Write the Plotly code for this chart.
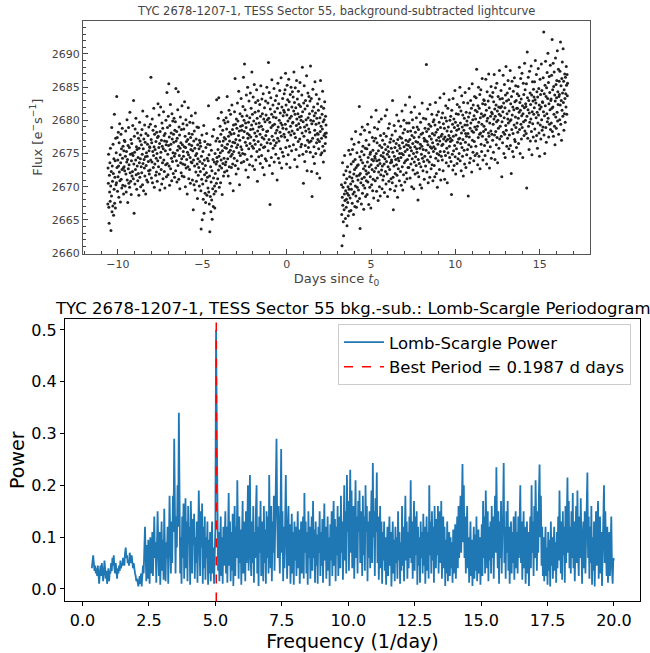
import numpy as np
import plotly.graph_objects as go

# ---------------- data: light curve (two TESS orbits) ----------------
SEG1_T_START, SEG1_T_END = -10.6, 2.35
SEG2_T_START, SEG2_T_END = 3.25, 16.65

FLUX_SEG1 = [
2667.4,2672.8,2670.5,2674.9,2666.9,2664.5,2671.7,2669.2,2673.6,2667.8,2675.8,2670.1,2663.4,2672.3,2668.6,2678.9,2666.2,2673.1,2670.8,2667.1,2676.4,2672.0,2665.7,2674.2,2669.6,2680.9,2667.5,2671.4,2673.9,2666.8,2677.3,2670.3,
2675.1,2670.6,2683.6,2672.9,2677.4,2669.3,2674.0,2671.5,2678.2,2673.1,2668.4,2676.6,2672.2,2679.5,2670.9,2674.8,2667.7,2673.6,2677.9,2671.1,2675.7,2669.8,2672.6,2678.8,2674.3,2670.2,2676.1,2672.8,2668.9,2675.4,2673.0,2677.0,
2672.4,2676.8,2670.1,2674.6,2678.4,2671.9,2669.2,2675.3,2673.7,2680.1,2671.0,2674.1,2667.6,2676.2,2672.7,2678.9,2670.5,2673.3,2675.9,2669.9,2681.2,2672.1,2674.9,2670.8,2677.1,2668.8,2673.9,2676.5,2671.6,2675.0,2672.3,2679.2,
2674.7,2671.2,2683.0,2673.4,2666.0,2677.6,2675.2,2670.4,2678.7,2672.6,2674.0,2680.3,2671.8,2676.0,2669.6,2675.6,2673.1,2678.1,2670.9,2674.4,2672.0,2677.3,2668.7,2675.8,2673.6,2679.7,2671.4,2676.9,2674.2,2670.0,2677.8,2673.0,
2676.3,2672.1,2678.6,2674.9,2670.3,2681.4,2673.5,2675.7,2669.4,2677.2,2674.1,2672.8,2679.3,2671.6,2676.7,2674.5,2668.9,2678.0,2673.2,2675.1,2671.0,2680.6,2674.6,2676.4,2670.7,2677.7,2673.8,2672.4,2679.0,2675.4,2671.9,2676.0,
2675.9,2672.5,2679.4,2674.0,2686.5,2677.1,2671.3,2676.6,2673.7,2680.2,2670.6,2675.3,2678.5,2672.9,2674.7,2681.8,2676.0,2669.9,2677.9,2673.4,2675.6,2679.1,2671.7,2676.8,2674.3,2672.2,2678.2,2675.0,2670.8,2677.4,2673.9,2682.5,
2677.6,2673.0,2675.9,2680.8,2671.9,2676.5,2669.5,2678.3,2674.4,2682.0,2675.2,2672.6,2677.0,2670.4,2679.6,2676.1,2673.6,2678.8,2671.2,2675.7,2681.3,2674.0,2677.7,2672.3,2676.9,2669.8,2678.0,2675.4,2673.3,2680.0,2676.3,2671.5,
2676.8,2684.2,2673.5,2678.9,2674.9,2671.8,2680.6,2676.2,2685.5,2673.1,2677.5,2670.2,2679.2,2675.6,2682.4,2672.7,2676.4,2678.1,2674.3,2670.9,2681.0,2677.2,2673.8,2679.9,2675.1,2672.0,2677.9,2676.7,2680.3,2674.6,2671.4,2678.5,
2675.0,2679.8,2672.4,2684.8,2676.9,2673.9,2678.3,2670.7,2677.3,2675.5,2681.6,2673.2,2684.3,2676.1,2671.1,2679.0,2674.7,2677.8,2669.7,2675.8,2680.5,2673.6,2676.6,2672.1,2678.6,2674.2,2682.2,2671.6,2676.3,2673.4,2679.5,2675.3,
2674.6,2678.7,2671.5,2676.0,2682.8,2673.3,2677.6,2670.0,2675.9,2680.1,2672.8,2676.8,2674.1,2679.3,2668.9,2675.2,2677.1,2673.0,2681.9,2674.8,2671.2,2678.0,2676.4,2672.6,2679.7,2674.4,2670.5,2677.4,2675.6,2673.7,2680.7,2676.2,
2673.6,2677.9,2671.0,2675.4,2679.6,2666.5,2674.0,2676.9,2670.3,2678.4,2673.1,2675.8,2669.5,2681.1,2674.7,2672.2,2677.2,2670.8,2675.0,2679.0,2673.4,2668.2,2676.3,2674.2,2671.7,2678.9,2672.9,2675.7,2670.1,2677.0,2673.8,2676.6,
2672.3,2676.1,2669.4,2663.6,2674.6,2671.1,2677.8,2665.0,2673.5,2670.4,2675.3,2668.1,2672.7,2679.2,2666.0,2674.0,2671.8,2676.8,2669.0,2673.2,2667.6,2675.9,2670.9,2672.1,2678.0,2668.7,2674.3,2671.4,2676.4,2669.8,2673.9,2682.2,
2669.2,2674.8,2667.4,2671.6,2663.2,2676.3,2668.5,2673.0,2666.2,2670.7,2675.5,2668.0,2672.4,2665.1,2677.6,2669.7,2674.1,2667.0,2671.3,2678.6,2668.9,2673.7,2670.1,2666.8,2675.0,2672.0,2669.3,2676.9,2673.4,2670.5,2683.1,2674.4,
2673.8,2677.3,2671.2,2675.6,2680.3,2672.5,2683.4,2674.6,2669.9,2676.8,2673.1,2679.1,2675.1,2670.6,2677.9,2674.0,2681.2,2672.8,2676.2,2668.8,2675.4,2678.5,2673.5,2676.9,2671.6,2680.0,2674.3,2677.4,2672.2,2675.9,2679.6,2673.3,
2677.2,2673.7,2680.4,2675.8,2678.7,2672.4,2683.6,2676.4,2674.2,2679.8,2671.6,2677.6,2675.2,2681.5,2673.0,2676.9,2678.2,2670.5,2675.5,2680.9,2674.6,2677.9,2672.9,2676.1,2682.3,2674.9,2678.6,2673.4,2676.7,2669.4,2679.3,2675.3,
2678.0,2674.3,2681.3,2676.6,2686.3,2673.2,2679.4,2677.1,2671.9,2680.2,2675.9,2678.8,2673.9,2682.6,2676.3,2679.9,2672.7,2677.7,2684.4,2675.1,2678.4,2670.3,2677.0,2681.0,2674.7,2679.1,2676.0,2683.3,2673.6,2678.5,2675.6,2680.6,
2679.2,2675.0,2682.1,2677.4,2686.5,2673.8,2680.0,2678.3,2688.5,2674.9,2681.6,2676.7,2679.6,2672.5,2678.9,2683.8,2676.2,2680.7,2674.1,2678.0,2685.0,2677.3,2671.4,2679.7,2675.7,2682.9,2677.8,2673.3,2680.4,2676.5,2684.1,2678.6,
2677.5,2681.8,2674.6,2679.3,2687.3,2676.1,2680.9,2673.1,2678.7,2683.5,2675.8,2679.9,2677.0,2685.4,2672.6,2678.1,2681.2,2676.4,2682.7,2674.0,2679.5,2677.6,2684.6,2675.3,2680.3,2670.8,2678.4,2683.0,2676.8,2681.4,2674.5,2679.0,
2679.6,2675.6,2682.4,2677.9,2673.5,2680.6,2685.2,2676.3,2679.1,2674.7,2683.2,2677.4,2681.0,2672.9,2678.6,2684.0,2675.9,2680.2,2677.2,2671.8,2681.9,2676.0,2679.8,2674.2,2682.9,2677.7,2680.8,2673.9,2678.3,2685.0,2676.6,2680.1,
2678.4,2682.6,2675.4,2688.7,2680.3,2677.1,2684.2,2673.2,2679.7,2667.3,2681.7,2676.5,2683.4,2678.9,2674.4,2680.9,2686.1,2677.6,2672.0,2679.2,2682.3,2675.8,2680.5,2677.0,2684.8,2673.7,2679.4,2681.3,2676.2,2683.0,2678.1,2674.9,
2680.4,2676.6,2683.7,2678.5,2671.0,2681.8,2677.3,2685.6,2679.0,2674.3,2682.5,2676.9,2680.0,2673.6,2684.5,2678.2,2681.1,2675.7,2679.6,2686.4,2677.6,2672.8,2682.0,2679.3,2675.2,2683.3,2678.8,2680.7,2674.6,2681.5,2677.9,2684.0,
2681.2,2677.5,2684.6,2679.4,2687.1,2675.9,2682.3,2678.7,2673.4,2680.8,2685.3,2677.0,2683.1,2679.9,2674.8,2681.6,2686.2,2678.2,2682.8,2676.1,2680.3,2672.9,2683.9,2679.1,2677.8,2685.0,2680.6,2675.4,2682.0,2678.4,2684.3,2679.6,
2679.7,2683.5,2676.3,2681.4,2687.3,2678.0,2682.7,2674.1,2680.9,2684.9,2677.4,2681.9,2675.6,2679.2,2686.0,2680.2,2673.0,2683.2,2678.6,2681.0,2676.8,2684.4,2679.5,2682.4,2674.7,2680.5,2677.2,2685.7,2678.9,2682.1,2676.0,2680.0,
2680.6,2676.4,2683.8,2678.1,2688.0,2681.3,2674.9,2679.8,2670.5,2682.6,2677.6,2685.2,2679.0,2673.8,2681.7,2676.2,2683.0,2678.4,2680.1,2675.3,2686.7,2679.3,2672.4,2682.2,2677.0,2684.1,2680.4,2675.9,2678.7,2683.6,2676.7,2681.0,
2678.2,2682.9,2675.2,2688.2,2680.0,2676.9,2683.3,2672.3,2679.5,2668.5,2681.4,2677.3,2684.7,2674.5,2679.9,2682.0,2676.0,2680.7,2673.5,2678.5,2685.8,2677.8,2681.1,2675.0,2679.4,2683.9,2676.6,2680.3,2672.0,2678.0,2682.5,2677.1,
2677.9,2681.5,2675.7,2679.6,2683.2,2676.8,2671.3,2680.4,2678.3,2686.0,2674.8,2679.1,2682.1,2677.3,2675.1,2680.9,2678.7,2684.4,2676.1,2679.8,2673.7,2681.8,2677.7,2680.1,2675.4,2682.8,2678.0,2676.5,2680.6,2677.5,2679.3,2678.1,
]

FLUX_SEG2 = [
2670.3,2665.8,2661.1,2668.4,2673.6,2667.2,2669.9,2664.7,2662.6,2671.8,2666.5,2668.9,2674.7,2667.9,2670.6,2665.2,2669.4,2672.4,2666.9,2668.1,2671.2,2664.1,2669.0,2673.0,2667.6,2670.0,2665.6,2668.7,2675.5,2669.6,2666.3,2671.5,
2672.2,2668.3,2674.9,2670.4,2666.4,2673.4,2669.6,2677.2,2671.3,2667.5,2675.6,2670.8,2668.9,2673.8,2665.8,2671.9,2676.4,2669.2,2672.6,2667.0,2674.1,2670.1,2678.3,2668.6,2672.9,2666.9,2671.6,2675.1,2669.9,2673.2,2667.8,2671.0,
2673.3,2669.5,2676.7,2671.7,2682.1,2668.2,2674.5,2663.7,2672.0,2677.9,2670.6,2674.0,2667.4,2675.3,2671.2,2679.0,2669.0,2673.6,2676.1,2670.2,2672.7,2666.6,2674.8,2671.4,2678.5,2669.8,2673.1,2675.8,2668.5,2672.4,2677.0,2670.9,
2671.9,2675.7,2668.8,2673.7,2679.4,2670.7,2674.4,2672.1,2667.3,2676.3,2673.0,2678.2,2669.9,2674.9,2671.5,2675.2,2666.8,2673.3,2680.5,2670.3,2674.1,2672.6,2677.4,2669.4,2675.5,2671.1,2673.9,2668.3,2676.9,2672.3,2678.9,2674.6,
2674.3,2670.9,2677.3,2672.8,2681.5,2675.0,2669.3,2673.9,2676.6,2671.3,2678.7,2673.2,2667.9,2675.4,2672.2,2679.8,2674.0,2670.0,2676.2,2673.5,2668.6,2677.7,2671.8,2674.7,2680.2,2672.5,2675.9,2669.7,2673.1,2677.0,2671.0,2674.5,
2675.1,2671.6,2678.0,2673.4,2669.1,2676.4,2674.2,2680.7,2672.3,2675.6,2670.4,2677.6,2673.8,2681.6,2671.9,2674.9,2668.5,2676.0,2673.0,2678.8,2675.3,2670.8,2674.5,2679.5,2672.6,2676.7,2669.6,2673.6,2677.2,2671.2,2675.8,2674.0,
2673.7,2677.8,2670.6,2683.0,2675.2,2671.4,2666.5,2676.9,2673.1,2679.2,2674.6,2669.4,2675.9,2672.0,2678.4,2674.1,2670.1,2676.5,2673.3,2680.8,2671.7,2675.4,2668.4,2677.1,2674.3,2672.7,2679.9,2673.9,2676.2,2670.9,2675.0,2677.5,
2675.8,2672.3,2679.1,2674.4,2670.2,2677.3,2675.0,2681.4,2673.0,2676.6,2669.5,2678.1,2674.8,2671.8,2680.0,2676.0,2673.6,2678.6,2670.7,2675.3,2682.3,2673.9,2677.0,2672.1,2676.3,2679.6,2671.2,2675.6,2674.1,2678.3,2672.9,2676.8,
2676.2,2672.9,2679.6,2674.7,2683.5,2677.1,2671.3,2675.9,2678.4,2673.4,2681.2,2675.4,2670.0,2677.7,2674.2,2680.1,2676.5,2672.5,2678.9,2675.0,2669.7,2677.4,2673.7,2682.0,2676.0,2671.9,2678.2,2674.5,2676.8,2673.2,2680.4,2675.7,
2675.2,2679.0,2672.1,2676.7,2668.0,2674.1,2678.6,2671.5,2677.5,2673.5,2681.0,2675.8,2670.3,2676.4,2679.7,2673.0,2677.9,2674.9,2669.8,2676.1,2682.6,2674.3,2678.1,2672.4,2675.6,2680.3,2673.8,2677.3,2671.1,2676.9,2674.6,2678.8,
2677.0,2673.1,2680.2,2675.5,2688.4,2678.3,2672.2,2676.8,2674.0,2681.7,2676.3,2670.6,2678.7,2675.1,2679.4,2673.7,2677.6,2671.4,2682.4,2676.0,2674.5,2679.1,2672.7,2677.2,2675.8,2680.9,2673.3,2678.0,2676.6,2670.9,2679.8,2675.3,
2676.0,2680.1,2673.2,2677.8,2671.5,2679.3,2675.7,2682.7,2674.3,2678.2,2672.0,2677.0,2680.8,2675.0,2669.9,2678.6,2676.4,2673.9,2681.3,2677.4,2674.8,2679.7,2672.6,2676.9,2683.4,2675.3,2678.9,2671.0,2677.6,2674.6,2680.4,2676.2,
2677.9,2674.0,2681.1,2676.4,2672.4,2679.5,2677.2,2684.0,2675.3,2678.8,2671.1,2677.5,2680.4,2674.7,2682.2,2676.9,2673.6,2679.9,2675.8,2678.4,2670.6,2677.1,2681.8,2675.1,2679.0,2673.1,2677.7,2683.1,2676.1,2674.4,2680.0,2677.3,
2676.8,2680.6,2673.8,2678.3,2668.8,2681.5,2677.0,2674.9,2679.4,2672.5,2683.3,2677.6,2675.4,2680.2,2673.2,2678.9,2676.2,2684.5,2674.5,2679.7,2671.9,2677.8,2681.0,2675.7,2678.5,2673.5,2682.4,2676.7,2679.2,2674.2,2680.9,2677.2,
2678.7,2675.0,2682.0,2677.3,2685.0,2673.9,2679.6,2676.5,2681.4,2672.4,2678.1,2683.7,2675.9,2679.0,2674.6,2680.8,2677.1,2671.6,2682.7,2678.5,2675.5,2680.3,2673.4,2679.3,2684.2,2676.7,2678.0,2672.9,2681.2,2677.6,2674.8,2679.9,
2679.3,2675.6,2682.6,2678.0,2668.6,2680.5,2676.3,2684.8,2677.5,2673.6,2681.1,2678.8,2674.3,2683.0,2679.6,2676.0,2681.8,2672.2,2678.4,2685.5,2677.0,2680.1,2675.2,2682.3,2678.2,2673.9,2680.7,2676.8,2683.6,2679.0,2674.7,2681.5,
2680.2,2676.1,2683.4,2678.6,2687.7,2675.0,2681.3,2679.1,2673.3,2682.2,2677.4,2685.0,2679.7,2674.6,2681.8,2677.9,2683.9,2672.7,2680.4,2678.1,2684.6,2676.4,2681.0,2675.3,2679.4,2686.3,2677.6,2682.5,2674.0,2680.6,2678.3,2683.1,
2679.1,2683.0,2676.2,2680.8,2674.7,2682.4,2678.6,2686.2,2677.1,2681.5,2673.4,2679.9,2684.3,2676.7,2680.3,2675.4,2682.9,2678.1,2687.0,2677.6,2681.9,2672.8,2679.6,2683.7,2676.0,2680.6,2678.4,2685.1,2674.3,2681.2,2677.9,2683.5,
2681.0,2677.0,2684.2,2679.4,2675.2,2682.8,2680.2,2686.9,2677.8,2681.7,2674.1,2680.6,2684.9,2678.3,2682.3,2676.3,2679.8,2685.6,2677.4,2681.4,2673.6,2680.0,2683.6,2678.8,2682.0,2675.8,2680.9,2687.5,2677.2,2683.2,2679.1,2681.9,
2680.7,2684.5,2677.6,2682.1,2671.5,2679.8,2683.3,2676.6,2681.3,2686.8,2678.2,2682.6,2675.0,2680.4,2685.4,2677.9,2681.9,2674.4,2683.8,2679.2,2688.1,2678.5,2682.9,2676.1,2681.0,2684.1,2677.3,2680.2,2686.0,2679.6,2683.1,2675.7,
2681.4,2677.8,2684.8,2679.9,2687.5,2676.2,2682.5,2680.1,2672.0,2683.6,2678.6,2685.9,2680.8,2675.3,2682.0,2678.0,2684.4,2674.5,2681.6,2679.3,2686.4,2677.1,2682.8,2676.8,2680.5,2685.2,2678.9,2683.0,2675.9,2681.8,2679.6,2684.0,
2681.8,2678.2,2685.1,2680.3,2676.5,2683.7,2681.2,2688.0,2678.6,2682.7,2675.0,2681.5,2686.3,2679.4,2683.2,2677.2,2680.7,2687.1,2678.9,2682.2,2674.4,2681.0,2685.6,2679.8,2683.9,2677.7,2681.9,2688.6,2678.4,2684.6,2680.0,2682.5,
2682.1,2678.0,2685.5,2669.8,2680.6,2690.3,2683.4,2677.3,2681.6,2686.5,2679.1,2683.0,2675.6,2681.1,2687.4,2679.7,2684.1,2676.9,2682.4,2680.2,2688.2,2678.3,2683.8,2674.8,2681.3,2685.8,2679.5,2682.9,2677.5,2684.7,2680.9,2683.5,
2681.9,2685.8,2678.7,2683.1,2689.0,2676.9,2682.6,2680.4,2686.9,2677.7,2684.3,2681.2,2675.8,2683.5,2679.6,2687.8,2680.8,2684.8,2678.1,2682.3,2674.6,2681.7,2686.2,2679.3,2683.9,2677.2,2682.0,2688.5,2680.1,2684.5,2678.5,2682.8,
2682.7,2679.0,2686.4,2681.3,2693.3,2677.8,2684.0,2680.7,2675.0,2685.3,2682.2,2688.9,2678.9,2683.6,2676.7,2684.9,2681.0,2687.2,2679.8,2683.3,2690.1,2680.3,2685.7,2677.5,2682.5,2686.6,2679.4,2684.2,2681.6,2688.3,2678.6,2683.0,
2683.2,2679.6,2686.8,2681.8,2692.2,2678.3,2684.6,2682.0,2688.6,2677.6,2685.1,2680.9,2687.3,2679.1,2683.8,2676.3,2682.9,2689.4,2680.5,2685.4,2678.8,2683.4,2686.0,2681.2,2690.5,2679.9,2684.3,2682.4,2687.7,2677.9,2683.6,2685.9,
2683.9,2680.1,2687.4,2682.3,2691.8,2679.4,2685.2,2683.0,2677.0,2686.3,2681.5,2688.8,2684.1,2680.6,2690.8,2682.7,2685.9,2678.5,2684.6,2681.0,2687.0,2683.3,2679.7,2686.5,2684.0,2682.0,2688.1,2685.3,2680.9,2686.9,2683.7,2685.6,
]

# ---------------- data: Lomb-Scargle periodogram ----------------
FREQ_START = 0.35      # 1/day
FREQ_STEP = 0.025      # 1/day
POWER = [
0.040,0.055,0.065,0.050,0.035,0.045,0.030,0.040,0.025,0.045,0.020,0.010,0.030,0.045,0.025,0.050,0.035,0.015,0.030,0.055,
0.040,0.020,0.035,0.010,0.025,0.040,0.015,0.035,0.030,0.050,0.035,0.060,0.045,0.065,0.040,0.030,0.050,0.035,0.020,0.040,
0.030,0.045,0.035,0.055,0.040,0.050,0.045,0.060,0.050,0.045,0.070,0.080,0.060,0.065,0.050,0.055,0.045,0.070,0.060,0.050,
0.065,0.055,0.040,0.050,0.035,0.030,0.025,0.015,0.020,0.010,0.005,0.015,0.025,0.010,0.030,0.005,0.020,0.045,0.030,0.060,
0.120,0.070,0.015,0.085,0.020,0.095,0.060,0.010,0.100,0.075,0.030,0.110,0.025,0.080,0.140,0.060,0.090,0.012,0.070,0.150,
0.085,0.025,0.110,0.008,0.065,0.130,0.035,0.095,0.018,0.155,0.075,0.015,0.090,0.060,0.120,0.010,0.080,0.180,0.100,0.030,
0.130,0.050,0.180,0.110,0.290,0.150,0.030,0.140,0.080,0.200,0.120,0.340,0.170,0.030,0.100,0.010,0.140,0.060,0.165,0.020,
0.110,0.175,0.040,0.130,0.015,0.160,0.090,0.120,0.008,0.170,0.105,0.030,0.135,0.085,0.145,0.020,0.100,0.050,0.130,0.012,
0.090,0.190,0.110,0.025,0.150,0.080,0.165,0.010,0.120,0.040,0.140,0.018,0.100,0.060,0.130,0.008,0.095,0.030,0.110,0.015,
0.085,0.130,0.030,0.080,0.010,0.070,0.120,0.500,0.250,0.180,0.035,0.110,0.015,0.090,0.140,0.025,0.100,0.010,0.120,0.045,
0.080,0.150,0.030,0.120,0.012,0.100,0.185,0.045,0.130,0.015,0.110,0.035,0.145,0.006,0.090,0.160,0.025,0.120,0.060,0.210,
0.100,0.020,0.140,0.050,0.115,0.008,0.095,0.170,0.030,0.130,0.085,0.015,0.150,0.050,0.110,0.200,0.035,0.140,0.220,0.060,
0.025,0.130,0.050,0.160,0.012,0.110,0.060,0.150,0.200,0.030,0.120,0.006,0.140,0.070,0.170,0.025,0.100,0.130,0.015,0.160,
0.050,0.115,0.010,0.150,0.060,0.140,0.030,0.220,0.110,0.040,0.160,0.015,0.130,0.070,0.180,0.035,0.120,0.200,0.290,0.140,
0.060,0.160,0.100,0.030,0.130,0.270,0.070,0.150,0.015,0.120,0.040,0.140,0.220,0.100,0.020,0.110,0.160,0.045,0.125,0.010,
0.095,0.145,0.030,0.110,0.008,0.130,0.055,0.120,0.025,0.100,0.150,0.040,0.115,0.010,0.090,0.130,0.030,0.105,0.140,0.020,
0.185,0.070,0.130,0.030,0.110,0.008,0.150,0.060,0.120,0.020,0.100,0.140,0.035,0.170,0.060,0.115,0.012,0.130,0.045,0.105,
0.010,0.120,0.070,0.150,0.025,0.110,0.045,0.135,0.012,0.095,0.165,0.055,0.120,0.020,0.105,0.140,0.035,0.100,0.006,0.125,
0.055,0.150,0.025,0.110,0.170,0.045,0.135,0.015,0.120,0.065,0.160,0.025,0.100,0.140,0.040,0.180,0.070,0.130,0.018,0.115,
0.200,0.055,0.150,0.030,0.220,0.110,0.170,0.035,0.140,0.230,0.070,0.190,0.040,0.130,0.160,0.020,0.120,0.210,0.060,0.140,
0.030,0.170,0.110,0.190,0.050,0.150,0.120,0.025,0.180,0.065,0.140,0.035,0.200,0.110,0.160,0.015,0.130,0.060,0.150,0.040,
0.120,0.190,0.050,0.243,0.100,0.150,0.025,0.175,0.110,0.225,0.050,0.140,0.018,0.120,0.160,0.040,0.130,0.010,0.110,0.055,
0.130,0.035,0.100,0.008,0.090,0.120,0.025,0.085,0.140,0.045,0.110,0.005,0.080,0.130,0.030,0.095,0.015,0.120,0.050,0.100,
0.020,0.150,0.055,0.110,0.010,0.090,0.035,0.160,0.045,0.120,0.015,0.100,0.180,0.055,0.130,0.020,0.110,0.040,0.140,0.060,
0.210,0.050,0.130,0.020,0.110,0.170,0.035,0.140,0.065,0.150,0.008,0.120,0.045,0.100,0.012,0.130,0.060,0.110,0.030,0.145,
0.045,0.120,0.010,0.095,0.140,0.035,0.110,0.020,0.200,0.065,0.130,0.030,0.150,0.055,0.120,0.012,0.160,0.070,0.040,0.135,
0.065,0.160,0.030,0.125,0.150,0.050,0.170,0.020,0.110,0.140,0.040,0.120,0.006,0.095,0.030,0.130,0.015,0.085,0.110,0.025,
0.100,0.040,0.090,0.012,0.115,0.030,0.080,0.125,0.020,0.095,0.140,0.040,0.160,0.060,0.130,0.180,0.070,0.150,0.241,0.090,
0.200,0.060,0.140,0.030,0.110,0.160,0.040,0.100,0.012,0.085,0.130,0.025,0.095,0.006,0.075,0.120,0.020,0.105,0.035,0.140,
0.015,0.090,0.115,0.030,0.100,0.008,0.080,0.125,0.025,0.170,0.060,0.140,0.030,0.190,0.110,0.040,0.150,0.015,0.120,0.055,
0.130,0.030,0.160,0.060,0.140,0.020,0.110,0.180,0.070,0.235,0.120,0.040,0.150,0.010,0.130,0.060,0.170,0.030,0.110,0.140,
0.243,0.050,0.120,0.020,0.150,0.070,0.170,0.035,0.120,0.010,0.090,0.130,0.030,0.110,0.050,0.140,0.018,0.100,0.150,0.040,
0.110,0.030,0.140,0.060,0.120,0.200,0.050,0.130,0.018,0.100,0.150,0.040,0.120,0.010,0.090,0.130,0.030,0.110,0.006,0.085,
0.140,0.040,0.200,0.070,0.130,0.025,0.160,0.060,0.210,0.120,0.035,0.150,0.070,0.180,0.240,0.100,0.180,0.045,0.120,0.025,
0.100,0.015,0.090,0.120,0.025,0.080,0.008,0.110,0.035,0.095,0.005,0.130,0.045,0.100,0.020,0.085,0.120,0.035,0.090,0.012,
0.110,0.040,0.140,0.055,0.190,0.100,0.030,0.130,0.018,0.150,0.065,0.120,0.012,0.160,0.050,0.130,0.215,0.070,0.170,0.040,
0.120,0.030,0.150,0.060,0.185,0.040,0.130,0.015,0.110,0.160,0.050,0.190,0.070,0.025,0.140,0.060,0.175,0.120,0.010,0.100,
0.130,0.040,0.150,0.030,0.110,0.180,0.225,0.060,0.140,0.020,0.120,0.050,0.160,0.008,0.100,0.035,0.130,0.005,0.090,0.150,
0.045,0.120,0.170,0.020,0.100,0.140,0.030,0.110,0.006,0.090,0.130,0.200,0.050,0.150,0.070,0.025,0.120,0.012,0.080,0.110,
0.025,0.090,0.140,0.040,0.010,0.060,0.055,
]
BEST_PERIOD = 0.1987   # days

# ---------------- derived arrays ----------------
t1 = np.linspace(SEG1_T_START, SEG1_T_END, len(FLUX_SEG1))
t2 = np.linspace(SEG2_T_START, SEG2_T_END, len(FLUX_SEG2))
time = np.concatenate([t1, t2])
flux = np.concatenate([FLUX_SEG1, FLUX_SEG2])
freq = FREQ_START + FREQ_STEP * np.arange(len(POWER))
best_freq = 1.0 / BEST_PERIOD

W, H = 650, 653
def px(x): return x / W
def py(y): return 1 - y / H

FONT = "DejaVu Sans"
GRAY = "#444444"

fig = go.Figure()
fig.add_trace(go.Scatter(
    x=time, y=flux, mode="markers", xaxis="x", yaxis="y",
    marker=dict(size=3.0, color="#222222", line=dict(width=0)),
    showlegend=False, hoverinfo="skip"))

fig.add_trace(go.Scatter(
    x=freq, y=POWER, mode="lines", xaxis="x2", yaxis="y2",
    line=dict(color="#1f77b4", width=1.8), name="Lomb-Scargle Power"))
fig.add_trace(go.Scatter(
    x=[None], y=[None], mode="lines", xaxis="x2", yaxis="y2",
    line=dict(color="red", width=1.5, dash="dash"),
    name=f"Best Period = {BEST_PERIOD:.4f} d days"))

fig.add_shape(type="line", xref="x2", yref="y2 domain",
              x0=best_freq, x1=best_freq, y0=0, y1=1,
              line=dict(color="red", width=1.5, dash="dash"), layer="above")

fig.update_layout(
    width=W, height=H, autosize=False,
    margin=dict(l=0, r=0, t=0, b=0),
    paper_bgcolor="white", plot_bgcolor="white",
    font=dict(family=FONT, color="black"),
    xaxis=dict(
        domain=[px(83), px(590)], anchor="y", range=[-12.07, 17.98],
        tickvals=[-10, -5, 0, 5, 10, 15], ticktext=["\u221210", "\u22125", "0", "5", "10", "15"],
        ticks="inside", ticklen=5, tickwidth=1, tickcolor=GRAY,
        minor=dict(ticks="inside", dtick=1, ticklen=2.5, tickcolor=GRAY),
        showline=True, linecolor="#555555", linewidth=1, mirror=True,
        showgrid=False, zeroline=False,
        tickfont=dict(size=11, color=GRAY),
        title=dict(text="Days since <i>t</i><sub>0</sub>", font=dict(size=13, color=GRAY), standoff=2)),
    yaxis=dict(
        domain=[py(256), py(21)], anchor="x", range=[2659.9, 2695.0],
        tickvals=[2660, 2665, 2670, 2675, 2680, 2685, 2690],
        ticks="inside", ticklen=5, tickwidth=1, tickcolor=GRAY,
        minor=dict(ticks="inside", dtick=1, ticklen=2.5, tickcolor=GRAY),
        showline=True, linecolor="#555555", linewidth=1, mirror=True,
        showgrid=False, zeroline=False,
        tickfont=dict(size=11, color=GRAY),
        title=dict(text="Flux [e<sup>\u2212</sup>s<sup>\u22121</sup>]", font=dict(size=13, color=GRAY), standoff=6)),
    xaxis2=dict(
        domain=[px(65), px(640)], anchor="y2", range=[-0.66, 20.98],
        tickvals=[0, 2.5, 5, 7.5, 10, 12.5, 15, 17.5, 20],
        ticktext=["0.0", "2.5", "5.0", "7.5", "10.0", "12.5", "15.0", "17.5", "20.0"],
        ticks="outside", ticklen=4, tickwidth=1, tickcolor="black",
        showline=True, linecolor="black", linewidth=1, mirror=True,
        showgrid=False, zeroline=False,
        tickfont=dict(size=16, color="black"),
        title=dict(text="Frequency (1/day)", font=dict(size=19, color="black"), standoff=3)),
    yaxis2=dict(
        domain=[py(607), py(322)], anchor="x2", range=[-0.024, 0.521],
        tickvals=[0, 0.1, 0.2, 0.3, 0.4, 0.5],
        ticktext=["0.0", "0.1", "0.2", "0.3", "0.4", "0.5"],
        ticks="outside", ticklen=4, tickwidth=1, tickcolor="black",
        showline=True, linecolor="black", linewidth=1, mirror=True,
        showgrid=False, zeroline=False,
        tickfont=dict(size=16, color="black"),
        title=dict(text="Power", font=dict(size=19, color="black"), standoff=1)),
    legend=dict(
        x=px(338), y=py(327), xanchor="left", yanchor="top",
        bgcolor="rgba(255,255,255,0.8)", bordercolor="#cccccc", borderwidth=1,
        font=dict(size=16.5, color="black"), tracegroupgap=0, itemwidth=40),
    annotations=[
        dict(text="TYC 2678-1207-1, TESS Sector 55, background-subtracted lightcurve",
             x=px(336), y=py(11), xref="paper", yref="paper", showarrow=False,
             xanchor="center", yanchor="middle", font=dict(size=11.5, color=GRAY)),
        dict(text="TYC 2678-1207-1, TESS Sector 55 bkg.-sub.: Lomb-Scargle Periodogram",
             x=px(353), y=py(311), xref="paper", yref="paper", showarrow=False,
             xanchor="center", yanchor="middle", font=dict(size=16.5, color="black")),
    ],
)

fig.write_html("out.html")
